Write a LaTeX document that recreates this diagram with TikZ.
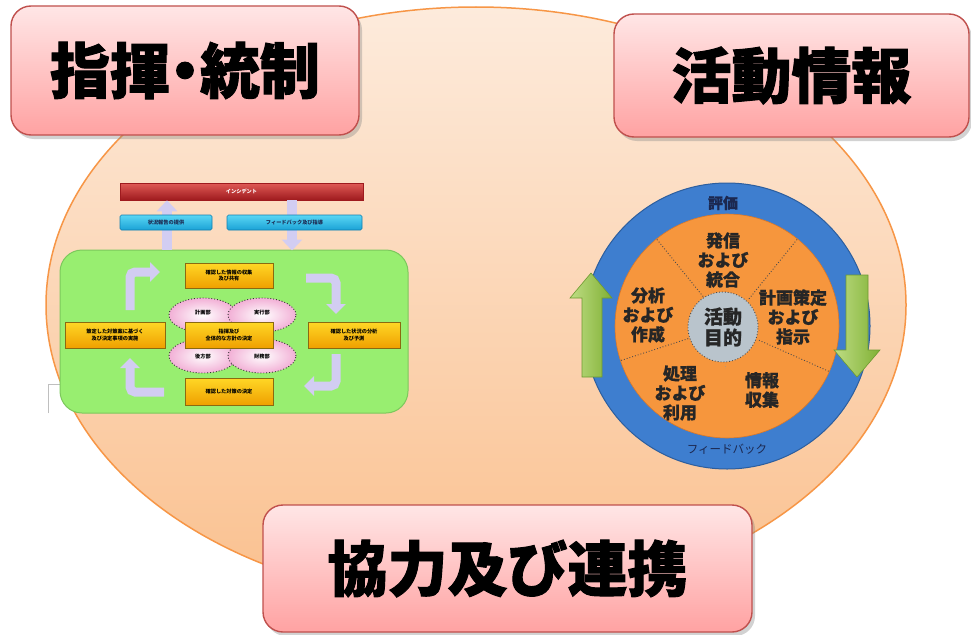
\documentclass[tikz,border=0pt]{standalone}
\usepackage{fontspec}
\newfontfamily\jp{Noto Sans CJK JP}
\newfontfamily\jph{Noto Sans CJK JP}[BoldFeatures={FakeBold=1.6}]
\newfontfamily\jpm{Noto Sans CJK JP}[BoldFeatures={FakeBold=0.8}]
\usetikzlibrary{shadows,arrows.meta,shapes.geometric}
\definecolor{pinkT}{HTML}{FFE6E6}
\definecolor{pinkB}{HTML}{FFA2A2}
\definecolor{pinkbd}{HTML}{C0504D}
\definecolor{peachT}{HTML}{FDEBDC}
\definecolor{peachB}{HTML}{FAC08E}
\definecolor{peachbd}{HTML}{F79646}
\definecolor{redT}{HTML}{E05A55}
\definecolor{redB}{HTML}{9E1A1E}
\definecolor{cyanT}{HTML}{5AD6F4}
\definecolor{cyanB}{HTML}{1AA2D6}
\definecolor{cyanbd}{HTML}{127FB0}
\definecolor{grn}{HTML}{98EE70}
\definecolor{grnbd}{HTML}{7CC85C}
\definecolor{oT}{HTML}{FFD726}
\definecolor{oB}{HTML}{EFA000}
\definecolor{obd}{HTML}{8A6A10}
\definecolor{pinkE}{HTML}{F2B0D6}
\definecolor{lav}{HTML}{D2CDF2}
\definecolor{ring}{HTML}{3E7ECF}
\definecolor{ringbd}{HTML}{2C5E9E}
\definecolor{disk}{HTML}{F6963D}
\definecolor{diskbd}{HTML}{D9782A}
\definecolor{gcore}{HTML}{B9C4CC}
\definecolor{garL}{HTML}{BEDD84}
\definecolor{garR}{HTML}{80B034}
\definecolor{garbd}{HTML}{6E9A30}
\definecolor{navy}{HTML}{1C2850}
\begin{document}
\begin{tikzpicture}[x=1pt,y=-1pt,
  titlebox/.style={draw=pinkbd, line width=1.4pt, rounded corners=20pt,
    top color=pinkT, bottom color=pinkB,
    drop shadow={opacity=0.35,shadow xshift=3pt,shadow yshift=-4pt},
    font=\jph\bfseries\fontsize{60}{66}\selectfont, inner sep=0pt},
  tiny/.style={font=\jp\bfseries\fontsize{5.2}{6.2}\selectfont},
  redbar/.style={tiny, text=white, top color=redT, bottom color=redB, draw=redB,
    line width=0.5pt, minimum width=243pt, minimum height=17pt, inner sep=0pt},
  cybox/.style={tiny, text=navy, top color=cyanT, bottom color=cyanB, draw=cyanbd,
    line width=0.6pt, rounded corners=1.5pt, minimum height=15pt, inner sep=0pt},
  obox/.style={tiny, text=black, top color=oT, bottom color=oB, draw=obd,
    line width=0.5pt, align=center, inner sep=0pt, minimum height=26pt},
  pell/.style={ellipse, tiny, draw=black!80, dotted, line width=0.9pt,
    inner color=white, outer color=pinkE, minimum width=68pt, minimum height=34pt,
    inner sep=0pt},
  lavarrow/.style={draw=lav, line width=9pt, rounded corners=5pt,
    -{Triangle[width=19pt,length=10pt]}},
  ctext/.style={font=\jpm\bfseries\fontsize{17}{19.5}\selectfont, text=black!85,
    align=center, inner sep=0pt},
  garrow/.style={left color=garL, right color=garR, draw=garbd, line width=0.6pt}
]
\useasboundingbox (0,0) rectangle (971,634);
\fill[white] (0,0) rectangle (971,634);

% big background ellipse
\draw[draw=peachbd, line width=1.5pt, top color=peachT, bottom color=peachB]
  (476,305) ellipse [x radius=430pt, y radius=298pt];

% ---------------- left diagram ----------------
\fill[white] (48,384) rectangle (62,413);
\draw[black!25, line width=0.6pt] (48,413) -- (48,384) -- (62,384);
\node[draw=grnbd, fill=grn, line width=1pt, rounded corners=22pt,
  minimum width=348pt, minimum height=163pt, inner sep=0pt] (gbox) at (234,331.5) {};
\node[redbar] (inc) at (241.5,191.5) {インシデント};
\coordinate (upx) at (167,0);
\coordinate (dnx) at (292,0);
\draw[draw=lav, line width=10pt, -{Triangle[width=20pt,length=11pt]}]
  (gbox.north -| upx) -- (inc.south -| upx);
\draw[draw=lav, line width=10pt, -{Triangle[width=20pt,length=11pt]}]
  (inc.south -| dnx) -- ([yshift=-1pt]gbox.north -| dnx);
\node[cybox, minimum width=92pt] (rep) at (166,222.5) {状況報告の提供};
\node[cybox, minimum width=135pt] (fb) at (294.5,222.5) {フィードバック及び指導};

\node[pell] (e1) at (203,315) {\raisebox{6pt}{計画部}};
\node[pell] (e2) at (262,315) {\raisebox{6pt}{実行部}};
\node[pell] (e3) at (203,356) {\raisebox{-6pt}{後方部}};
\node[pell] (e4) at (262,356) {\raisebox{-6pt}{財務部}};

\node[obox, minimum width=88pt, minimum height=25pt] (ot) at (229,275.5) {確認した情報の収集\\及び共有};
\node[obox, minimum width=100pt] (ol) at (115,335) {策定した対策案に基づく\\及び決定事項の実施};
\node[obox, minimum width=92pt] (or) at (354,335) {確認した状況の分析\\及び予測};
\node[obox, minimum width=88pt] (oc) at (229,335) {指揮及び\\全体的な方針の決定};
\node[obox, minimum width=88pt, minimum height=27pt] (ob) at (229,391.5) {確認した対策の決定};

\coordinate (a1s) at (130,310); \coordinate (a1e) at (160,272);
\coordinate (a2s) at (306,278); \coordinate (a2e) at (336,314);
\coordinate (a3s) at (336,354); \coordinate (a3e) at (304,386);
\coordinate (a4s) at (164,392); \coordinate (a4e) at (130,358);
\draw[lavarrow] (a1s) |- (a1e);
\draw[lavarrow] (a2s) -| (a2e);
\draw[lavarrow] (a3s) |- (a3e);
\draw[lavarrow] (a4s) -| (a4e);

% ---------------- right diagram ----------------
\coordinate (cc) at (727,326);
\fill[ring] (cc) circle [radius=143pt];
\draw[ringbd, line width=1pt] (cc) circle [radius=143pt];
\fill[disk] (cc) circle [radius=112pt];
\draw[diskbd, line width=0.6pt] (cc) circle [radius=112pt];
\foreach \a in {51,129,198,336} {
  \draw[black!70, dotted, line width=0.9pt] (cc) ++(\a:35pt) -- ++(\a:77pt);
}
\draw[black!40, dotted, line width=0.6pt] (cc) ++(268:35pt) -- ++(268:8pt);
\node[circle, draw=black!70, dotted, line width=0.9pt, fill=gcore, minimum size=70pt,
  inner sep=0pt, font=\jpm\bfseries\fontsize{19}{21}\selectfont, align=center, text=black!85]
  (core) at (723,327) {活動\\目的};
\node[ctext] (t1) at (723,260) {発信\\および\\統合};
\node[ctext] (t2) at (793,317) {計画策定\\および\\指示};
\node[ctext] (t3) at (762,390) {情報\\収集};
\node[ctext] (t4) at (680,393) {処理\\および\\利用};
\node[ctext] (t5) at (648,315) {分析\\および\\作成};
\node[font=\jpm\bfseries\fontsize{15}{17}\selectfont, text=navy, inner sep=0pt] (ev) at (723,203) {評価};
\node[font=\jp\fontsize{11.5}{13}\selectfont, text=navy, inner sep=0pt] (fbk) at (727,449) {フィードバック};

% green arrows
\path[garrow] (582,377) -- (582,298) -- (570,298) -- (591,273) -- (612,298) -- (602,298) -- (602,377) -- cycle;
\path[garrow] (846,275) -- (868,275) -- (868,350) -- (880,350) -- (857,377) -- (834,350) -- (846,350) -- cycle;

% ---------------- title boxes ----------------
\node[titlebox, minimum width=348pt, minimum height=129pt] (cmd) at (185,70.5)
  {指揮\kern-15pt・\kern-15pt 統制};
\node[titlebox, minimum width=355pt, minimum height=123pt] (info) at (791.5,75.5) {活動情報};
\node[titlebox, minimum width=489pt, minimum height=127pt] (coop) at (507.5,568.5) {協力及び連携};
\end{tikzpicture}
\end{document}
